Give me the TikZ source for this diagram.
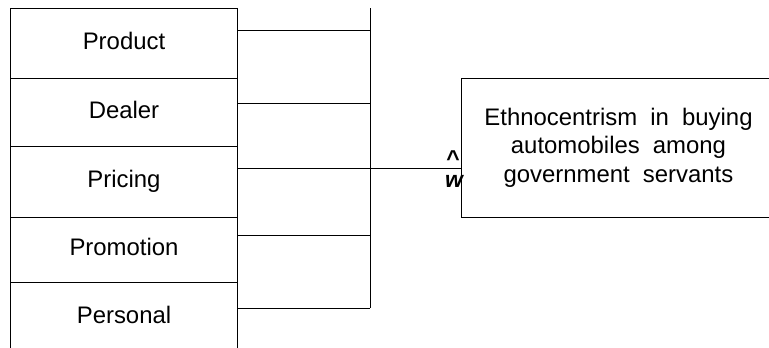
\documentclass[tikz,border=0pt]{standalone}
\usepackage{fontspec}
\setmainfont{Liberation Sans}
\usetikzlibrary{positioning}

\begin{document}
\begin{tikzpicture}[x=1bp,y=-1bp,line width=1bp,
  cell/.style={draw,minimum width=226bp,inner sep=0pt,text height=17bp,text depth=5bp,font=\fontsize{24}{28}\selectfont},
  tipmark/.style={inner sep=0pt,anchor=base,font=\fontsize{23}{23}\selectfont\bfseries}]
\useasboundingbox (0,0) rectangle (769,347);
\clip (0,0) rectangle (769,347);
% factors
\node[cell,minimum height=69.5bp] (product) at (124,43.25) {Product};
\node[cell,minimum height=68bp] (dealer) at (124,112) {Dealer};
\node[cell,minimum height=71bp] (pricing) at (124,181.5) {Pricing};
\node[cell,minimum height=65bp] (promotion) at (124,249.5) {Promotion};
\node[cell,minimum height=70bp] (personal) at (124,317) {Personal};
% outcome
\node[draw,anchor=west,minimum width=314bp,minimum height=139bp,align=center,
  font={\fontsize{24}{28.5}\selectfont\spaceskip=0.55em}] (goal) at (461,147.5)
  {Ethnocentrism in buying\\automobiles among\\government servants};
% bus
\coordinate (bustop) at (370,8);
\coordinate (j1) at (370,30);
\coordinate (j2) at (370,103);
\coordinate (j3) at (370,168);
\coordinate (j4) at (370,235);
\coordinate (j5) at (370,308);
\draw (bustop) -- (j5);
\foreach \c/\j in {product/j1,dealer/j2,pricing/j3,promotion/j4,personal/j5}
  \draw (\j -| \c.east) -- (\j);
\draw (j3) -- (j3 -| goal.west);
\node[tipmark] (caret) at (453,166) {\textasciicircum};
\node[tipmark,font=\fontsize{23}{23}\selectfont\bfseries\itshape] (wee) at (454,187) {w};
\end{tikzpicture}
\end{document}
